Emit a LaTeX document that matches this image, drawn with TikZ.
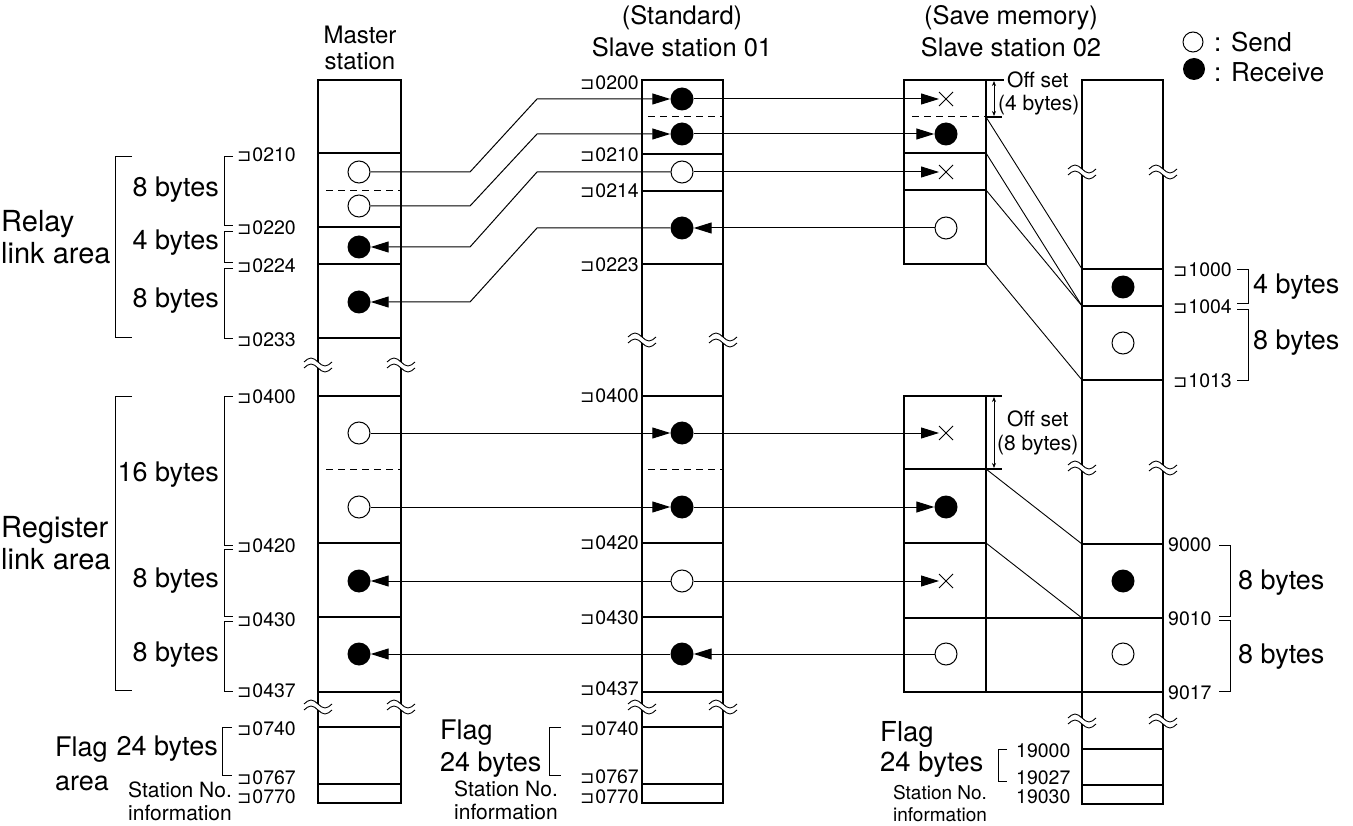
\documentclass[tikz,border=0pt]{standalone}
\usepackage{fontspec}
\setmainfont{TeX Gyre Heros}
\newfontfamily\symfont{DejaVu Sans}
\usetikzlibrary{arrows.meta,shapes.misc}
\newcommand\ko{{\symfont\fontsize{17}{17}\selectfont ⊐}\hspace{1pt}}

\begin{document}
\begin{tikzpicture}[
  x=1pt, y=-1pt,
  mem/.style={line width=1.1pt},
  split/.style={line width=1pt, dash pattern=on 7pt off 5pt},
  snd/.style={circle, draw, fill=white, line width=1pt, minimum size=22pt, inner sep=0pt},
  rcv/.style={circle, fill=black, minimum size=23pt, inner sep=0pt},
  lost/.style={cross out, draw, line width=1pt, minimum size=13pt, inner sep=0pt},
  arr/.style={-{Triangle[length=18pt,width=11pt]}, line width=1pt},
  brc/.style={line width=0.9pt},
  adr/.style={font=\fontsize{19.5}{21}\selectfont, inner sep=0pt},
  big/.style={font=\fontsize{27}{32}\selectfont, inner sep=0pt, align=left},
  note/.style={font=\fontsize{21}{23}\selectfont, inner sep=0pt, align=center},
  brk/.pic={
    \fill[white] (-14,-3) sin (-7,-7) cos (0,-3) sin (7,1) cos (14,-3)
      -- (14,3) sin (7,7) cos (0,3) sin (-7,-1) cos (-14,3) -- cycle;
    \draw[line width=0.9pt] (-14,-3) sin (-7,-7) cos (0,-3) sin (7,1) cos (14,-3);
    \draw[line width=0.9pt] (-14,3) sin (-7,-1) cos (0,3) sin (7,7) cos (14,3);
  }
]
\useasboundingbox (0,0) rectangle (1353,826);

% Headers
\node[big, align=center, font=\fontsize{24}{26}\selectfont] (hmst) at (360,48) {Master\\station};
\node[big, align=center, font=\fontsize{25.5}{32}\selectfont] (hsl1) at (682,31) {(Standard)\\Slave station 01};
\node[big, align=center, font=\fontsize{25.5}{32}\selectfont] (hsl2) at (1011,31) {(Save memory)\\Slave station 02};

% Legend
\node[snd, minimum size=20pt] (lgs) at (1193,42) {};
\node[big, anchor=west, font=\fontsize{26}{28}\selectfont] (lgst) at (1214,42) {: Send};
\node[rcv, minimum size=22pt] (lgr) at (1194,69) {};
\node[big, anchor=west, font=\fontsize{26}{28}\selectfont] (lgrt) at (1214,72) {: Receive};

% Master station column
\draw[mem] (318,80) rectangle (401,803);
\draw[mem] (318,153) -- (401,153);
\draw[split] (326,191) -- (401,191);
\draw[mem] (318,227) -- (401,227);
\draw[mem] (318,264) -- (401,264);
\draw[mem] (318,338) -- (401,338);
\draw[mem] (318,396) -- (401,396);
\draw[split] (326,469) -- (401,469);
\draw[mem] (318,543) -- (401,543);
\draw[mem] (318,617) -- (401,617);
\draw[mem] (318,692) -- (401,692);
\draw[mem] (318,727) -- (401,727);
\draw[mem] (318,784) -- (401,784);

% Slave station 01 column
\draw[mem] (642,80) rectangle (723,803);
\draw[split] (648,117) -- (723,117);
\draw[mem] (642,154) -- (723,154);
\draw[mem] (642,191) -- (723,191);
\draw[mem] (642,264) -- (723,264);
\draw[mem] (642,396) -- (723,396);
\draw[split] (648,469) -- (723,469);
\draw[mem] (642,543) -- (723,543);
\draw[mem] (642,617) -- (723,617);
\draw[mem] (642,692) -- (723,692);
\draw[mem] (642,727) -- (723,727);
\draw[mem] (642,784) -- (723,784);

% Slave station 02, save memory boxes
\draw[mem] (904,80) rectangle (986,264);
\draw[split] (912,117) -- (986,117);
\draw[mem] (986,117) -- (1002,117);
\draw[mem] (904,153) -- (986,153);
\draw[mem] (904,190) -- (986,190);
\draw[mem] (986,80) -- (1004,80);
\draw[{Stealth[length=5pt,width=4pt]}-{Stealth[length=5pt,width=4pt]}, line width=0.8pt] (994,81) -- (994,116);
\draw[mem] (904,396) rectangle (986,692);
\draw[mem] (986,396) -- (1002,396);
\draw[mem] (904,469) -- (1002,469);
\draw[mem] (904,543) -- (986,543);
\draw[mem] (904,618) -- (1082,618);
\draw[mem] (986,692) -- (1082,692);
\draw[{Stealth[length=5pt,width=4pt]}-{Stealth[length=5pt,width=4pt]}, line width=0.8pt] (994,397) -- (994,468);
\node[note, anchor=west] (ofs1) at (1007,80) {Off set};
\node[note, anchor=west] (ofb1) at (998,105) {(4 bytes)};
\node[note, anchor=west] (ofs2) at (1007,419) {Off set};
\node[note, anchor=west] (ofb2) at (997,445) {(8 bytes)};

% Slave station 02 memory column
\draw[mem] (1082,80) rectangle (1163,804);
\draw[mem] (1082,269) -- (1163,269);
\draw[mem] (1082,306) -- (1163,306);
\draw[mem] (1082,380) -- (1163,380);
\draw[mem] (1082,544) -- (1163,544);
\draw[mem] (1082,618) -- (1163,618);
\draw[mem] (1082,692) -- (1163,692);
\draw[mem] (1082,749) -- (1163,749);
\draw[mem] (1082,785) -- (1163,785);

% Save memory mapping
\draw[brc] (986,117) -- (1082,269);
\draw[brc] (986,153) -- (1082,306);
\draw[brc] (986,190) -- (1082,306);
\draw[brc] (986,264) -- (1082,380);
\draw[brc] (986,469) -- (1082,544);
\draw[brc] (986,543) -- (1082,618);

% Breaks
\pic at (318,365) {brk}; \pic at (401,365) {brk};
\pic at (318,707) {brk}; \pic at (401,707) {brk};
\pic at (642,340) {brk}; \pic at (723,340) {brk};
\pic at (642,707) {brk}; \pic at (723,707) {brk};
\pic at (1082,172) {brk}; \pic at (1163,172) {brk};
\pic at (1082,468) {brk}; \pic at (1163,468) {brk};
\pic at (1082,721) {brk}; \pic at (1163,721) {brk};

% Master addresses
\node[adr, anchor=west] (m0210) at (237,155) {\ko0210};
\node[adr, anchor=west] (m0220) at (237,228) {\ko0220};
\node[adr, anchor=west] (m0224) at (237,266) {\ko0224};
\node[adr, anchor=west] (m0233) at (237,340) {\ko0233};
\node[adr, anchor=west] (m0400) at (237,397) {\ko0400};
\node[adr, anchor=west] (m0420) at (237,546) {\ko0420};
\node[adr, anchor=west] (m0430) at (237,620) {\ko0430};
\node[adr, anchor=west] (m0437) at (237,691) {\ko0437};
\node[adr, anchor=west] (m0740) at (237,729) {\ko0740};
\node[adr, anchor=west] (m0767) at (237,778) {\ko0767};
\node[adr, anchor=west] (m0770) at (237,797) {\ko0770};

% Slave 01 addresses
\node[adr, anchor=east] (s0200) at (639,83) {\ko0200};
\node[adr, anchor=east] (s0210) at (639,155) {\ko0210};
\node[adr, anchor=east] (s0214) at (639,191) {\ko0214};
\node[adr, anchor=east] (s0223) at (639,265) {\ko0223};
\node[adr, anchor=east] (s0400) at (639,396) {\ko0400};
\node[adr, anchor=east] (s0420) at (639,543) {\ko0420};
\node[adr, anchor=east] (s0430) at (639,618) {\ko0430};
\node[adr, anchor=east] (s0437) at (639,689) {\ko0437};
\node[adr, anchor=east] (s0740) at (639,729) {\ko0740};
\node[adr, anchor=east] (s0767) at (639,777) {\ko0767};
\node[adr, anchor=east] (s0770) at (639,797) {\ko0770};

% Slave 02 addresses
\node[adr, anchor=west] (r1000) at (1173,270) {\ko1000};
\node[adr, anchor=west] (r1004) at (1173,307) {\ko1004};
\node[adr, anchor=west] (r1013) at (1173,381) {\ko1013};
\node[adr, anchor=west] (r9000) at (1168,545) {9000};
\node[adr, anchor=west] (r9010) at (1168,619) {9010};
\node[adr, anchor=west] (r9017) at (1168,693) {9017};
\node[adr, anchor=west] (r19000) at (1016,751) {19000};
\node[adr, anchor=west] (r19027) at (1016,778) {19027};
\node[adr, anchor=west] (r19030) at (1016,797) {19030};

% Brackets
\draw[brc] (132,156) -| (115,337) -- (132,337);
\draw[brc] (233,156) -| (224,225) -- (233,225);
\draw[brc] (233,231) -| (224,262) -- (233,262);
\draw[brc] (233,268) -| (224,338) -- (233,338);
\draw[brc] (132,396) -| (115,690) -- (132,690);
\draw[brc] (233,396) -| (224,545) -- (233,545);
\draw[brc] (233,549) -| (224,616) -- (233,616);
\draw[brc] (233,621) -| (224,691) -- (233,691);
\draw[brc] (232,727) -| (222,775) -- (232,775);
\draw[brc] (561,727) -| (549,775) -- (561,775);
\draw[brc] (1007,749) -| (998,781) -- (1007,781);
\draw[brc] (1237,269) -| (1248,303) -- (1237,303);
\draw[brc] (1237,309) -| (1248,380) -- (1237,380);
\draw[brc] (1219,545) -| (1230,616) -- (1219,616);
\draw[brc] (1219,620) -| (1230,691) -- (1219,691);

% Area and size labels
\node[big, anchor=west, font=\fontsize{29}{32}\selectfont] (relay) at (1,237) {Relay\\link area};
\node[big, anchor=west, font=\fontsize{29}{32}\selectfont] (regis) at (1,543) {Register\\link area};
\node[big, anchor=east] (rl8a) at (219,190) {8 bytes};
\node[big, anchor=east] (rl4) at (219,243) {4 bytes};
\node[big, anchor=east] (rl8b) at (219,301) {8 bytes};
\node[big, anchor=east] (rg16) at (219,475) {16 bytes};
\node[big, anchor=east] (rg8a) at (219,581) {8 bytes};
\node[big, anchor=east] (rg8b) at (219,655) {8 bytes};
\node[big, anchor=west] (flagm) at (55,764) {Flag\\[2pt]area};
\node[big, anchor=east] (fl24m) at (218,749) {24 bytes};
\node[note] (stnm) at (180,801) {Station No.\\information};
\node[big, anchor=west] (flags) at (440,749) {Flag\\24 bytes};
\node[note] (stns) at (506,800) {Station No.\\information};
\node[big, anchor=west, font=\fontsize{27.5}{30}\selectfont] (flagr) at (880,749) {Flag\\24 bytes};
\node[note, font=\fontsize{19}{22}\selectfont] (stnr) at (940,804) {Station No.\\information};
\node[big, anchor=west] (sz4) at (1253,287) {4 bytes};
\node[big, anchor=west] (sz8) at (1253,343) {8 bytes};
\node[big, anchor=west] (sz8a) at (1238,583) {8 bytes};
\node[big, anchor=west] (sz8b) at (1238,657) {8 bytes};

% Relay link data
\node[snd] (m1) at (359,172) {};
\node[snd] (m2) at (359,206) {};
\node[rcv] (m3) at (359,247) {};
\node[rcv] (m4) at (359,302) {};
\node[rcv] (a1) at (682,99) {};
\node[rcv] (a2) at (682,134) {};
\node[snd] (a3) at (682,172) {};
\node[rcv] (a4) at (682,228) {};
\node[lost] (b1) at (946,99) {};
\node[rcv] (b2) at (946,134) {};
\node[lost] (b3) at (946,172) {};
\node[snd] (b4) at (946,228) {};
\node[rcv] (c1) at (1123,287) {};
\node[snd] (c2) at (1123,343) {};

% Register link data
\node[snd] (m5) at (359,433) {};
\node[snd] (m6) at (359,507) {};
\node[rcv] (m7) at (359,581) {};
\node[rcv] (m8) at (359,654) {};
\node[rcv] (a5) at (682,433) {};
\node[rcv] (a6) at (682,507) {};
\node[snd] (a7) at (682,581) {};
\node[rcv] (a8) at (682,654) {};
\node[lost] (b5) at (946,433) {};
\node[rcv] (b6) at (946,507) {};
\node[lost] (b7) at (946,581) {};
\node[snd] (b8) at (946,654) {};
\node[rcv] (c3) at (1123,581) {};
\node[snd] (c4) at (1123,654) {};

% Transfers, relay link area
\draw[arr] (m1) -- (470,172) -- (537,99) -- (a1);
\draw[arr] (a1) -- (b1);
\draw[arr] (m2) -- (470,206) -- (537,134) -- (a2);
\draw[arr] (a2) -- (b2);
\draw[arr] (a3) -- (537,172) -- (470,247) -- (m3);
\draw[arr] (a3) -- (b3);
\draw[arr] (b4) -- (a4);
\draw[arr] (a4) -- (537,228) -- (470,302) -- (m4);

% Transfers, register link area
\draw[arr] (m5) -- (a5);
\draw[arr] (a5) -- (b5);
\draw[arr] (m6) -- (a6);
\draw[arr] (a6) -- (b6);
\draw[arr] (a7) -- (m7);
\draw[arr] (a7) -- (b7);
\draw[arr] (b8) -- (a8);
\draw[arr] (a8) -- (m8);

\end{tikzpicture}
\end{document}
